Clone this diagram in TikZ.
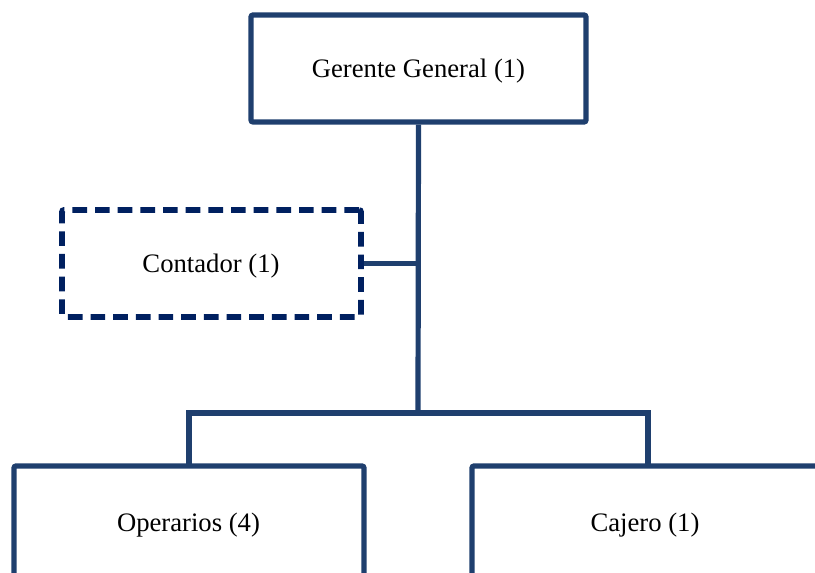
\documentclass[tikz,border=0pt]{standalone}
\usepackage{fontspec}
\setmainfont{Liberation Serif}
\begin{document}
\begin{tikzpicture}[x=0.75pt,y=-0.75pt,
  orgbox/.style={draw=boxblue,line width=3.9pt,rounded corners=1.5pt,inner sep=0pt},
  dashbox/.style={draw=dashblue,line width=4.3pt,dash pattern=on 11pt off 6pt,rounded corners=1.5pt,inner sep=0pt},
  lbl/.style={font=\fontsize{20}{24}\selectfont},
  link/.style={draw=boxblue,line width=3.9pt}]
\definecolor{boxblue}{RGB}{31,63,110}
\definecolor{dashblue}{RGB}{0,32,96}
\useasboundingbox (0,0) rectangle (815,573);
\clip (0,0) rectangle (815,573);
\node[orgbox,minimum width=335*0.75pt,minimum height=107*0.75pt] (ger) at (418.5,68.5) {};
\node[lbl] (gert) at (418.5,71) {Gerente General (1)};
\node[dashbox,minimum width=299*0.75pt,minimum height=107*0.75pt] (cont) at (211.5,263.5) {};
\node[lbl] (contt) at (211,266) {Contador (1)};
\node[orgbox,minimum width=350*0.75pt,minimum height=118*0.75pt] (op) at (189,525) {};
\node[lbl] (opt) at (188.5,525) {Operarios (4)};
\node[orgbox,minimum width=346*0.75pt,minimum height=118*0.75pt] (caj) at (645,525) {};
\node[lbl] (cajt) at (645,525) {Cajero (1)};
\coordinate (j) at (418,413);
\coordinate (jl) at (189,413);
\coordinate (jr) at (648,413);
\draw[link] (ger.south) -- (j);
\draw[link] (cont.east) -- (cont.east -| j);
\draw[link,line cap=round] (op.north -| jl) -- (jl) -- (jr) -- (caj.north -| jr);
\end{tikzpicture}
\end{document}
